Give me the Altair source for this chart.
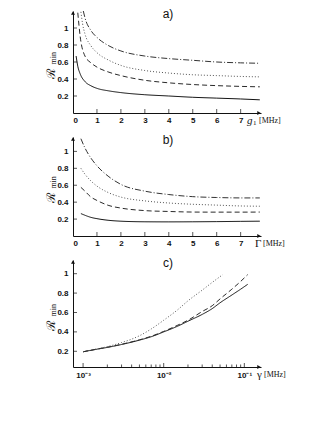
import altair as alt
import pandas as pd

# ---------------- data ----------------
# panel a)  R_min vs g1 [MHz]
A_X_SOLID = [0.13, 0.2, 0.3, 0.5, 0.75, 1, 1.5, 2, 3, 4, 5, 6, 7, 7.8]
A_Y_SOLID = [0.67, 0.55, 0.46, 0.37, 0.32, 0.29, 0.26, 0.24, 0.215, 0.2, 0.185, 0.175, 0.165, 0.155]
A_X_DASHED = [0.2, 0.3, 0.5, 0.75, 1, 1.5, 2, 3, 4, 5, 6, 7, 7.8]
A_Y_DASHED = [1.18, 0.9, 0.67, 0.59, 0.54, 0.48, 0.44, 0.385, 0.355, 0.335, 0.322, 0.313, 0.308]
A_X_DOTTED = [0.33, 0.4, 0.5, 0.75, 1, 1.5, 2, 3, 4, 5, 6, 7, 7.8]
A_Y_DOTTED = [1.19, 1.05, 0.93, 0.79, 0.71, 0.62, 0.56, 0.5, 0.47, 0.45, 0.44, 0.43, 0.425]
A_X_DASHDOT = [0.43, 0.5, 0.75, 1, 1.5, 2, 3, 4, 5, 6, 7, 7.8]
A_Y_DASHDOT = [1.2, 1.12, 0.97, 0.89, 0.79, 0.73, 0.67, 0.64, 0.62, 0.60, 0.59, 0.585]

# panel b)  R_min vs Gamma [MHz]
B_X = [0.33, 0.5, 0.75, 1, 1.5, 2, 3, 4, 5, 6, 7, 7.8]
B_Y_SOLID = [0.265, 0.245, 0.22, 0.205, 0.185, 0.175, 0.168, 0.167, 0.168, 0.17, 0.173, 0.175]
B_Y_DASHED = [0.575, 0.53, 0.46, 0.42, 0.36, 0.33, 0.3, 0.29, 0.283, 0.282, 0.282, 0.283]
B_Y_DOTTED = [0.80, 0.73, 0.65, 0.59, 0.51, 0.46, 0.415, 0.39, 0.375, 0.365, 0.355, 0.352]
B_Y_DASHDOT = [1.15, 1.04, 0.92, 0.83, 0.70, 0.61, 0.53, 0.49, 0.465, 0.455, 0.45, 0.45]

# panel c)  R_min vs gamma [MHz] (log axis)
C_X_SOLID = [0.001, 0.0015, 0.002, 0.003, 0.005, 0.007, 0.01, 0.015, 0.02, 0.03, 0.04, 0.05, 0.07, 0.09, 0.11]
C_Y_SOLID = [0.195, 0.222, 0.24, 0.27, 0.315, 0.35, 0.40, 0.46, 0.51, 0.58, 0.64, 0.70, 0.78, 0.84, 0.89]
C_X_DASHED = [0.001, 0.0015, 0.002, 0.003, 0.005, 0.007, 0.01, 0.015, 0.02, 0.03, 0.04, 0.05, 0.07, 0.09, 0.11]
C_Y_DASHED = [0.195, 0.223, 0.242, 0.272, 0.318, 0.355, 0.405, 0.47, 0.52, 0.61, 0.67, 0.74, 0.84, 0.92, 0.99]
C_X_DOTTED = [0.001, 0.0015, 0.002, 0.003, 0.004, 0.005, 0.007, 0.01, 0.015, 0.02, 0.03, 0.04, 0.054]
C_Y_DOTTED = [0.195, 0.225, 0.248, 0.29, 0.325, 0.36, 0.43, 0.52, 0.63, 0.72, 0.83, 0.91, 0.99]

LIN_TICKS_X = [1, 2, 3, 4, 5, 6, 7]
LIN_LABELS_X = [0, 1, 2, 3, 4, 5, 6, 7]
TICKS_Y = [0.2, 0.4, 0.6, 0.8, 1.0]
LOG_MAJOR = [0.001, 0.01, 0.1]
LOG_MINOR = [0.002, 0.003, 0.004, 0.005, 0.006, 0.007, 0.008, 0.009,
             0.02, 0.03, 0.04, 0.05, 0.06, 0.07, 0.08, 0.09]

SERIES = ["solid", "dashed", "dotted", "dashdot"]
DASHES = [[1, 0], [5, 3], [1, 2], [6, 2, 1, 2]]
COLORS = ["#111111", "#2a2a2a", "#555555", "#333333"]

W = 188
LABEL_FONT = "Liberation Sans"
SERIF = "Liberation Serif"


def long_df(pairs):
    rows = []
    for name, xs, ys in pairs:
        for x, y in zip(xs, ys):
            rows.append({"x": x, "y": y, "s": name})
    return pd.DataFrame(rows)


def one():
    return pd.DataFrame({"k": [0]})


def panel(df, xscale, xaxis, ydomain, h, letter, sym, sym_italic, sym_x, mhz_x,
          sub=None, minor=None, major=None):
    yscale = alt.Scale(domain=ydomain, nice=False, zero=False)
    yaxis = alt.Axis(values=TICKS_Y, format="~g", ticks=False, grid=False, title=None,
                     labelFont=LABEL_FONT, labelFontSize=8, labelFontWeight="bold",
                     labelColor="#111", labelPadding=5, domainColor="#111", domainWidth=1)
    X = lambda: alt.X("x:Q", scale=xscale, axis=xaxis)
    Y = lambda: alt.Y("y:Q", scale=yscale, axis=yaxis)
    lines = alt.Chart(df).mark_line(strokeWidth=1, clip=True, interpolate="monotone").encode(
        x=X(), y=Y(),
        strokeDash=alt.StrokeDash("s:N", scale=alt.Scale(domain=SERIES, range=DASHES), legend=None),
        color=alt.Color("s:N", scale=alt.Scale(domain=SERIES, range=COLORS), legend=None),
    )
    xt_vals = major if major is not None else LIN_TICKS_X
    xticks = alt.Chart(pd.DataFrame({"x": xt_vals})).mark_tick(
        orient="vertical", size=4, thickness=1, color="#111").encode(
        x=X(), y=alt.value(h - 2))
    yticks = alt.Chart(pd.DataFrame({"y": TICKS_Y})).mark_tick(
        orient="horizontal", size=4, thickness=1, color="#111").encode(
        y=Y(), x=alt.value(2))
    layers = [lines, xticks, yticks]
    if minor is not None:
        layers.append(alt.Chart(pd.DataFrame({"x": minor})).mark_tick(
            orient="vertical", size=2.5, thickness=1, color="#111").encode(
            x=X(), y=alt.value(h - 1.25)))
    # arrow heads
    layers.append(alt.Chart(one()).mark_point(shape="triangle-up", filled=True, size=16,
                                               color="#111", opacity=1).encode(
        x=alt.value(0), y=alt.value(2)))
    layers.append(alt.Chart(one()).mark_point(shape="triangle-right", filled=True, size=16,
                                               color="#111", opacity=1).encode(
        x=alt.value(W - 2), y=alt.value(h)))
    # panel letter
    layers.append(alt.Chart(one()).mark_text(text=letter, font=LABEL_FONT, fontSize=12,
                                              color="#111", align="center", baseline="middle").encode(
        x=alt.value(95), y=alt.value(3)))
    # y title  R_min (rotated)
    layers.append(alt.Chart(one()).mark_text(text="ℛ", font="DejaVu Serif", fontSize=12,
                                              color="#111", angle=270, align="center",
                                              baseline="middle").encode(
        x=alt.value(-22), y=alt.value(h * 0.62)))
    layers.append(alt.Chart(one()).mark_text(text="min", font=SERIF, fontSize=8,
                                              color="#111", angle=270, align="center",
                                              baseline="middle").encode(
        x=alt.value(-19), y=alt.value(h * 0.62 - 16)))
    # x quantity label
    layers.append(alt.Chart(one()).mark_text(text=sym, font=SERIF, fontSize=11,
                                              fontStyle="italic" if sym_italic else "normal",
                                              color="#111", align="left", baseline="middle").encode(
        x=alt.value(sym_x), y=alt.value(h + 8)))
    if sub is not None:
        layers.append(alt.Chart(one()).mark_text(text=sub, font=SERIF, fontSize=7,
                                                  color="#111", align="left", baseline="middle").encode(
            x=alt.value(sym_x + 6), y=alt.value(h + 10)))
    layers.append(alt.Chart(one()).mark_text(text="[MHz]", font=SERIF, fontSize=8,
                                              color="#111", align="left", baseline="middle").encode(
        x=alt.value(mhz_x), y=alt.value(h + 8)))
    return alt.layer(*layers).properties(width=W, height=h)


lin_scale = alt.Scale(domain=[0, 7.85], nice=False, zero=False)
lin_axis = alt.Axis(values=LIN_LABELS_X, format="~g", ticks=False, grid=False, title=None,
                    labelFont=LABEL_FONT, labelFontSize=8, labelFontWeight="bold",
                    labelColor="#111", labelPadding=3, domainColor="#111", domainWidth=1)
log_scale = alt.Scale(type="log", domain=[0.00075, 0.161], nice=False)
log_axis = alt.Axis(values=LOG_MAJOR, ticks=False, grid=False, title=None,
                    labelExpr="datum.value < 0.005 ? '10⁻³' : (datum.value < 0.05 ? '10⁻²' : '10⁻¹')",
                    labelFont=LABEL_FONT, labelFontSize=8, labelFontWeight="bold",
                    labelColor="#111", labelPadding=4, domainColor="#111", domainWidth=1)

df_a = long_df([("solid", A_X_SOLID, A_Y_SOLID), ("dashed", A_X_DASHED, A_Y_DASHED),
                ("dotted", A_X_DOTTED, A_Y_DOTTED), ("dashdot", A_X_DASHDOT, A_Y_DASHDOT)])
df_b = long_df([("solid", B_X, B_Y_SOLID), ("dashed", B_X, B_Y_DASHED),
                ("dotted", B_X, B_Y_DOTTED), ("dashdot", B_X, B_Y_DASHDOT)])
df_c = long_df([("solid", C_X_SOLID, C_Y_SOLID), ("dashed", C_X_DASHED, C_Y_DASHED),
                ("dotted", C_X_DOTTED, C_Y_DOTTED)])

pa = panel(df_a, lin_scale, lin_axis, [0, 1.2], 102, "a)", "g", True, 174, 186, sub="1")
pb = panel(df_b, lin_scale, lin_axis, [0, 1.17], 99, "b)", "Γ", False, 182, 190)
pc = panel(df_c, log_scale, log_axis, [0.038, 1.141], 107, "c)", "γ", False, 184, 191,
           minor=LOG_MINOR, major=LOG_MAJOR)

chart = alt.vconcat(pa, pb, pc, spacing=24, bounds="flush").properties(
    padding={"left": 36, "top": 0, "right": 5, "bottom": 5},
    background="white",
).configure_view(stroke=None)

chart.save("out.html", embed_options={"renderer": "svg", "actions": False})
